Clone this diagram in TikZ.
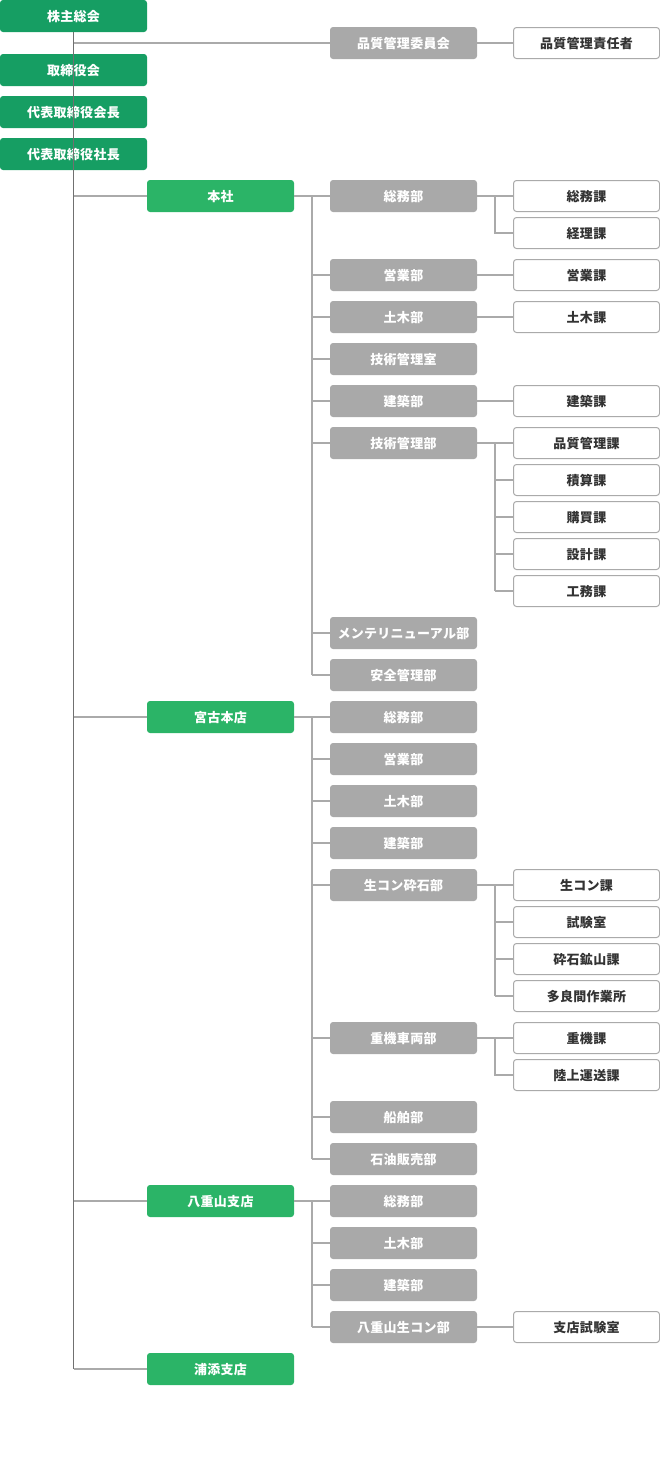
\documentclass[tikz,border=0pt]{standalone}
\usepackage{fontspec}
\setmainfont[LetterSpace=2]{Noto Sans CJK JP}
\definecolor{topgreen}{HTML}{169E63}
\definecolor{brgreen}{HTML}{2BB467}
\definecolor{deptgray}{HTML}{A9A9A9}
\definecolor{linegray}{HTML}{AAAAAA}
\definecolor{trunkgray}{HTML}{707070}
\definecolor{txt}{HTML}{333333}
\tikzset{
  box/.style={minimum width=147pt, minimum height=32pt, inner sep=0pt, rounded corners=3pt,
    text height=11pt, text depth=1pt,
    font=\fontsize{13}{15}\selectfont\bfseries, anchor=center},
  topbox/.style={box, fill=topgreen, text=white},
  brbox/.style={box, fill=brgreen, text=white},
  deptbox/.style={box, fill=deptgray, text=white},
  sectbox/.style={box, draw=linegray, line width=1pt, fill=white, text=txt, minimum width=146pt, minimum height=31pt},
  conn/.style={draw=linegray, line width=1.5pt},
  trunk/.style={draw=trunkgray, line width=1.5pt},
}
\begin{document}
\begin{tikzpicture}[x=1pt,y=1pt]
\useasboundingbox (0,0) rectangle (660,-1460);
% column 1
\node[topbox] (s0) at (73.5,-16) {株主総会};
\node[topbox] (s1) at (73.5,-70) {取締役会};
\node[topbox] (s2) at (73.5,-112) {代表取締役会長};
\node[topbox] (s3) at (73.5,-154) {代表取締役社長};
% quality committee
\node[deptbox] (qc) at (403.5,-43) {品質管理委員会};
\node[sectbox] (qm) at (586.5,-43) {品質管理責任者};
% branches
\node[brbox] (hq) at (220.5,-196) {本社};
\node[brbox] (mk) at (220.5,-717) {宮古本店};
\node[brbox] (yy) at (220.5,-1201) {八重山支店};
\node[brbox] (ur) at (220.5,-1369) {浦添支店};
% 本社 departments
\node[deptbox] (h1) at (403.5,-196) {総務部};
\node[deptbox] (h2) at (403.5,-275) {営業部};
\node[deptbox] (h3) at (403.5,-317) {土木部};
\node[deptbox] (h4) at (403.5,-359) {技術管理室};
\node[deptbox] (h5) at (403.5,-401) {建築部};
\node[deptbox] (h6) at (403.5,-443) {技術管理部};
\node[deptbox] (h7) at (403.5,-633) {メンテリニューアル部};
\node[deptbox] (h8) at (403.5,-675) {安全管理部};
% 本社 sections
\node[sectbox] (h1a) at (586.5,-196) {総務課};
\node[sectbox] (h1b) at (586.5,-233) {経理課};
\node[sectbox] (h2a) at (586.5,-275) {営業課};
\node[sectbox] (h3a) at (586.5,-317) {土木課};
\node[sectbox] (h5a) at (586.5,-401) {建築課};
\node[sectbox] (h6a) at (586.5,-443) {品質管理課};
\node[sectbox] (h6b) at (586.5,-480) {積算課};
\node[sectbox] (h6c) at (586.5,-517) {購買課};
\node[sectbox] (h6d) at (586.5,-554) {設計課};
\node[sectbox] (h6e) at (586.5,-591) {工務課};
% 宮古本店 departments
\node[deptbox] (m1) at (403.5,-717) {総務部};
\node[deptbox] (m2) at (403.5,-759) {営業部};
\node[deptbox] (m3) at (403.5,-801) {土木部};
\node[deptbox] (m4) at (403.5,-843) {建築部};
\node[deptbox] (m5) at (403.5,-885) {生コン砕石部};
\node[deptbox] (m6) at (403.5,-1038) {重機車両部};
\node[deptbox] (m7) at (403.5,-1117) {船舶部};
\node[deptbox] (m8) at (403.5,-1159) {石油販売部};
\node[sectbox] (m5a) at (586.5,-885) {生コン課};
\node[sectbox] (m5b) at (586.5,-922) {試験室};
\node[sectbox] (m5c) at (586.5,-959) {砕石鉱山課};
\node[sectbox] (m5d) at (586.5,-996) {多良間作業所};
\node[sectbox] (m6a) at (586.5,-1038) {重機課};
\node[sectbox] (m6b) at (586.5,-1075) {陸上運送課};
% 八重山支店
\node[deptbox] (y1) at (403.5,-1201) {総務部};
\node[deptbox] (y2) at (403.5,-1243) {土木部};
\node[deptbox] (y3) at (403.5,-1285) {建築部};
\node[deptbox] (y4) at (403.5,-1327) {八重山生コン部};
\node[sectbox] (y4a) at (586.5,-1327) {支店試験室};
% trunk
\coordinate (tend) at (73.5,-1369);
\draw[trunk] (s0.south) -- (tend);
% horizontal from trunk
\draw[conn] (73.5,-43) -- (qc.west);
\draw[conn] (qc.east) -- (qm.west);
\draw[conn] (tend) -- (ur.west);
\foreach \b in {hq,mk,yy} \draw[conn] (73.5,0 |- \b.west) -- (\b.west);
% branch verticals
\draw[conn] (hq.east) -- (h1.west);
\draw[conn] (312,-196) -- (312,-675);
\foreach \d in {h2,h3,h4,h5,h6,h7,h8} \draw[conn] (312,0 |- \d.west) -- (\d.west);
\draw[conn] (mk.east) -- (m1.west);
\draw[conn] (312,-717) -- (312,-1159);
\foreach \d in {m2,m3,m4,m5,m6,m7,m8} \draw[conn] (312,0 |- \d.west) -- (\d.west);
\draw[conn] (yy.east) -- (y1.west);
\draw[conn] (312,-1201) -- (312,-1327);
\foreach \d in {y2,y3,y4} \draw[conn] (312,0 |- \d.west) -- (\d.west);
% section connectors
\draw[conn] (h1.east) -- (h1a.west);
\draw[conn] (495,-196) -- (495,-233) -- (h1b.west);
\draw[conn] (h2.east) -- (h2a.west);
\draw[conn] (h3.east) -- (h3a.west);
\draw[conn] (h5.east) -- (h5a.west);
\draw[conn] (h6.east) -- (h6a.west);
\draw[conn] (495,-443) -- (495,-591);
\foreach \s in {h6b,h6c,h6d,h6e} \draw[conn] (495,0 |- \s.west) -- (\s.west);
\draw[conn] (m5.east) -- (m5a.west);
\draw[conn] (495,-885) -- (495,-996);
\foreach \s in {m5b,m5c,m5d} \draw[conn] (495,0 |- \s.west) -- (\s.west);
\draw[conn] (m6.east) -- (m6a.west);
\draw[conn] (495,-1038) -- (495,-1075) -- (m6b.west);
\draw[conn] (y4.east) -- (y4a.west);
\end{tikzpicture}
\end{document}
